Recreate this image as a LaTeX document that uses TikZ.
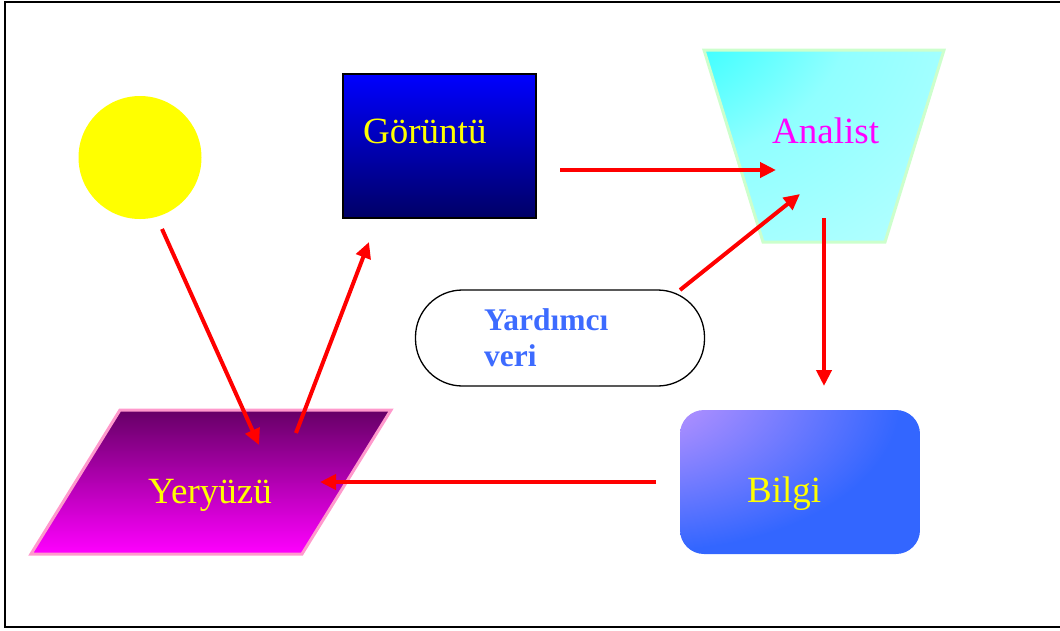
\documentclass[tikz,border=0pt]{standalone}
\usepackage{fontspec}
\setmainfont{Liberation Serif}
\usetikzlibrary{arrows.meta}
\definecolor{sunyellow}{HTML}{FFFF00}
\definecolor{txtyellow}{HTML}{FFFF00}
\definecolor{gortop}{HTML}{0000FF}
\definecolor{gorbot}{HTML}{000066}
\definecolor{anacyan}{HTML}{00FFFF}
\definecolor{anamid}{HTML}{90FFFF}
\definecolor{analight}{HTML}{C4FFFF}
\definecolor{anaedge}{HTML}{CCFFCC}
\definecolor{anatxt}{HTML}{FF00FF}
\definecolor{yertop}{HTML}{660066}
\definecolor{yerbot}{HTML}{FF00FF}
\definecolor{yeredge}{HTML}{FF99CC}
\definecolor{bilviolet}{HTML}{CC99FF}
\definecolor{bilblue}{HTML}{3366FF}
\definecolor{yardtxt}{HTML}{3D6BFF}
\definecolor{arrowred}{HTML}{FF0000}
\pgfdeclareradialshading{bilgishade}{\pgfpoint{-42bp}{38bp}}{color(0bp)=(bilviolet); color(8bp)=(bilviolet); color(52bp)=(bilblue); color(200bp)=(bilblue)}
\pgfdeclareradialshading{anashade}{\pgfpoint{-50bp}{50bp}}{color(0bp)=(anacyan); color(10bp)=(anacyan); color(45bp)=(anamid); color(90bp)=(analight); color(200bp)=(analight)}
\tikzset{
  flow/.style={draw=arrowred, line width=4pt, -{Triangle[length=16pt,width=15pt]}},
  bigtxt/.style={inner sep=0pt, anchor=base west, font=\fontsize{37}{44}\selectfont},
  yardstyle/.style={inner sep=0pt, anchor=base west, text=yardtxt, font=\fontsize{31.5}{36}\selectfont\bfseries},
}
\begin{document}
\begin{tikzpicture}[x=1pt,y=-1pt]
\useasboundingbox (0,0) rectangle (1060,630);
% frame
\draw[line width=2pt] (5,1.5) -- (1070,1.5) -- (1070,627) -- (5,627) -- cycle;

% sun
\fill[sunyellow] (140,157.5) circle (61.5);
\node[inner sep=0pt, minimum size=123pt, circle] (sun) at (140,157.5) {};

% Goruntu
\shade[top color=gortop, bottom color=gorbot] (343,74) rectangle (536,218);
\draw[line width=1.5pt] (343,74) rectangle (536,218);
\node[bigtxt, text=txtyellow] (gor) at (363,143) {Görüntü};

% Analist trapezoid
\shade[shading=anashade]
  (704,50) -- (944,50) -- (885,242) -- (763,242) -- cycle;
\draw[anaedge, line width=3pt, line join=miter] (704,50) -- (944,50) -- (885,242) -- (763,242) -- cycle;
\node[bigtxt, text=anatxt] (ana) at (772,143) {Analist};

% Yardimci veri
\draw[line width=1.3pt, rounded corners=47pt] (415.5,290) rectangle (704.5,386);
\node[yardstyle] (yard1) at (484,330) {Yardımcı};
\node[yardstyle] (yard2) at (484,366) {veri};

% Yeryuzu parallelogram
\shade[top color=yertop, bottom color=yerbot]
  (120,410) -- (391,410) -- (302,554) -- (31,554) -- cycle;
\draw[yeredge, line width=3pt, line join=miter] (120,410) -- (391,410) -- (302,554) -- (31,554) -- cycle;
\node[bigtxt, text=txtyellow] (yer) at (148,503) {Yeryüzü};

% Bilgi
\shade[shading=bilgishade, rounded corners=24pt] (680,410) rectangle (920,554);
\node[bigtxt, text=txtyellow] (bil) at (747,502) {Bilgi};

% arrow end points
\coordinate (a1s) at (162,229);
\coordinate (a1e) at (259,445);
\coordinate (a2s) at (296,433);
\coordinate (a2e) at (369,242);
\coordinate (a3s) at (560,170);
\coordinate (a3e) at (776,170);
\coordinate (a4s) at (680,290);
\coordinate (a4e) at (800,194);
\coordinate (a5s) at (824,218);
\coordinate (a5e) at (824,386);
\coordinate (a6s) at (656,482);
\coordinate (a6e) at (320,482);

\draw[flow] (a1s) -- (a1e);
\draw[flow] (a2s) -- (a2e);
\draw[flow] (a3s) -- (a3e);
\draw[flow] (a4s) -- (a4e);
\draw[flow] (a5s) -- (a5e);
\draw[flow] (a6s) -- (a6e);
\end{tikzpicture}
\end{document}
